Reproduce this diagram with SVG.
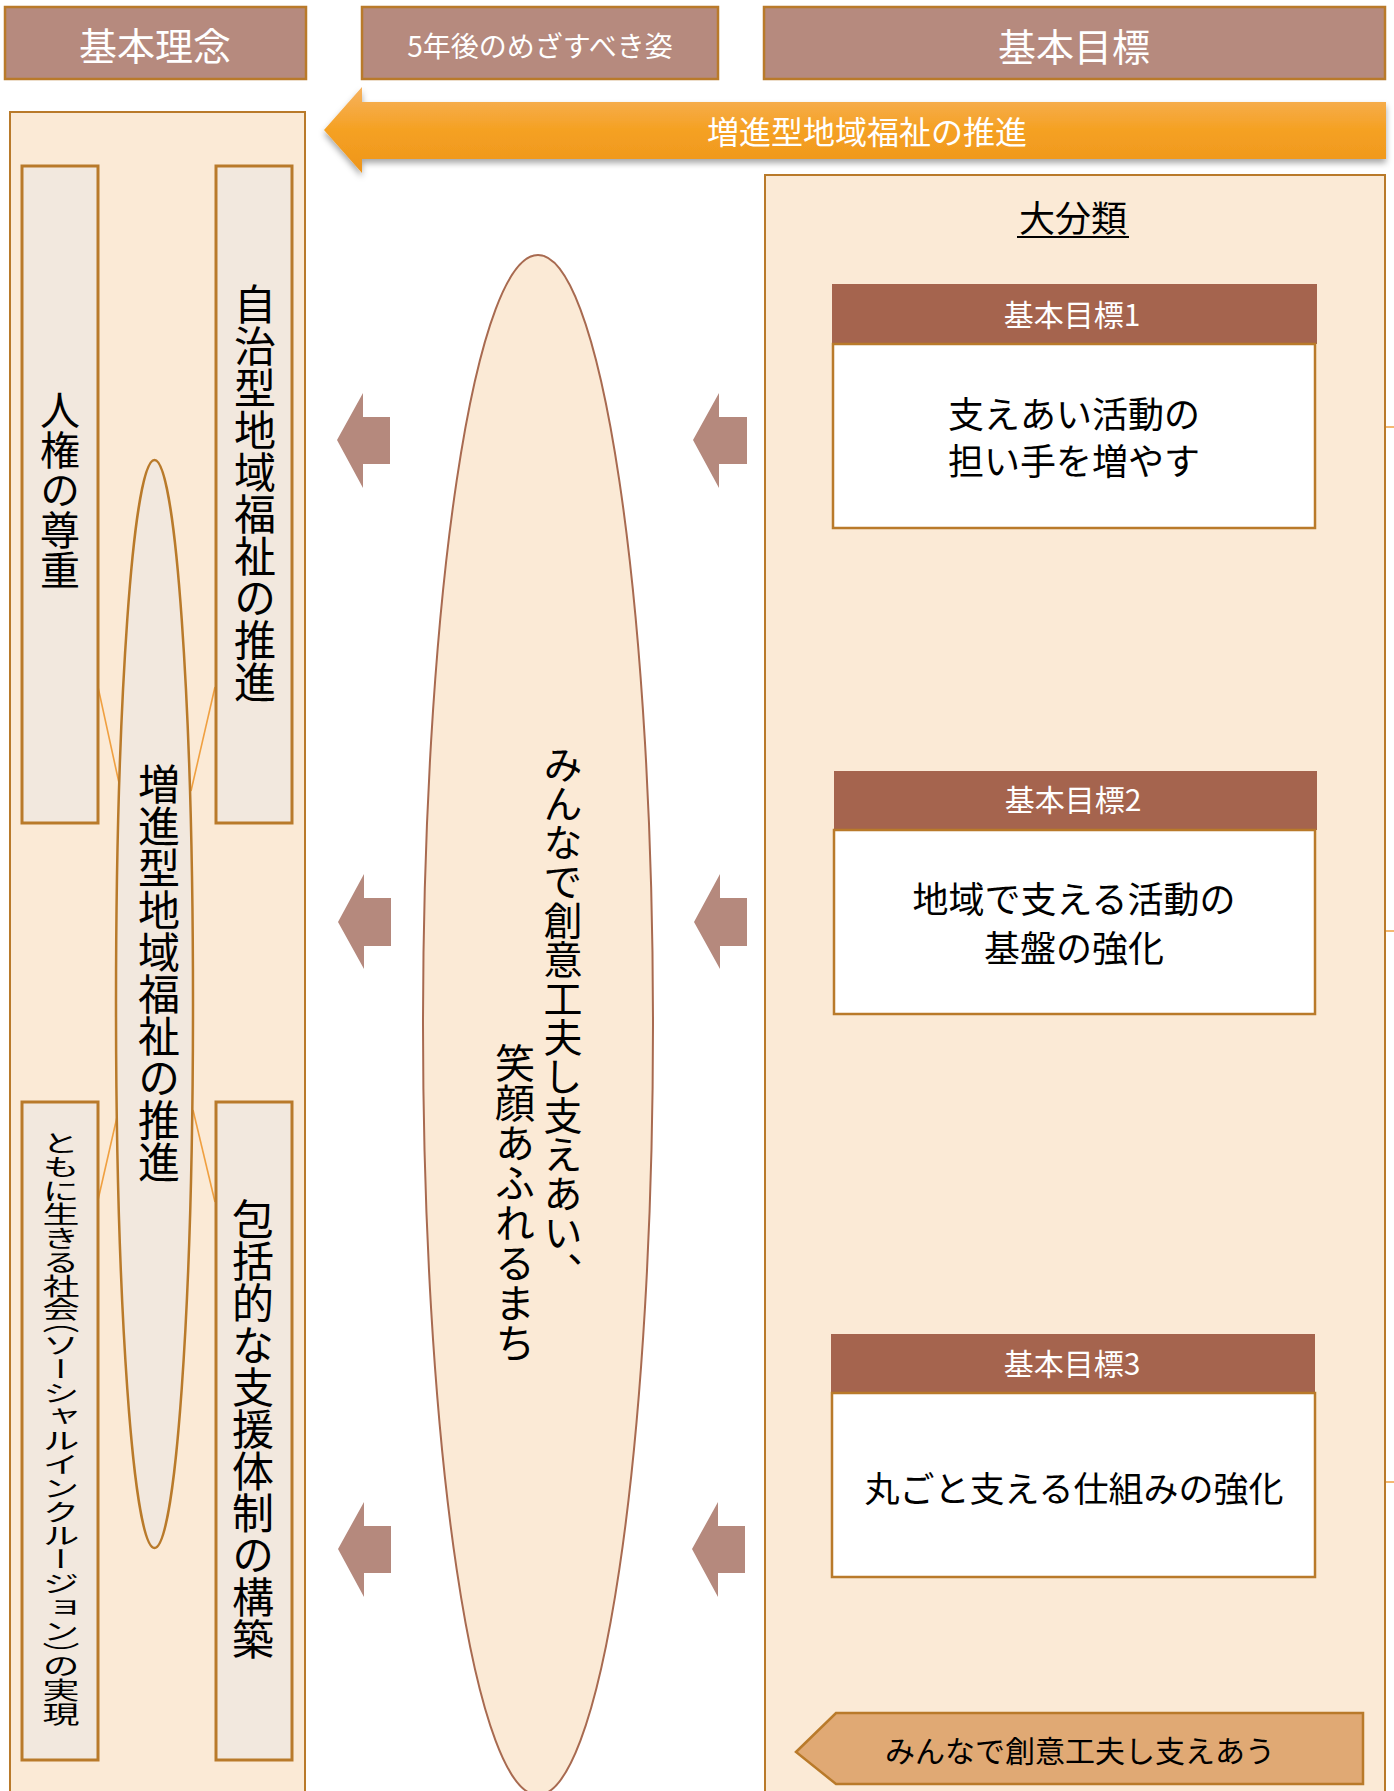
<svg xmlns="http://www.w3.org/2000/svg" width="1394" height="1791" viewBox="0 0 1394 1791">
<defs>
<style>
text{font-family:"Noto Sans CJK JP","Noto Sans",sans-serif;}
.hdr{fill:#B68A7E;stroke:#B97A2A;stroke-width:2.5;}
.panel{fill:#FBEAD6;stroke:#B97A2A;stroke-width:2;}
.inner{fill:#F2E8DE;stroke:#B97A2A;stroke-width:3;}
.gh{fill:#A5644E;}
.gb{fill:#FFFFFF;stroke:#B97A2A;stroke-width:2.5;}
.wt{fill:#FFFFFF;text-anchor:middle;dominant-baseline:central;}
.bt{fill:#000000;text-anchor:middle;dominant-baseline:central;}
.v{writing-mode:vertical-rl;fill:#000000;}
.arr{fill:#B5897D;}
.ln{stroke:#F0A040;stroke-width:1.6;fill:none;}
</style>
<linearGradient id="og" x1="0" y1="0" x2="0" y2="1">
<stop offset="0" stop-color="#F6B260"/>
<stop offset="0.5" stop-color="#F5A122"/>
<stop offset="1" stop-color="#EE951C"/>
</linearGradient>
<filter id="sh" x="-5%" y="-30%" width="110%" height="170%">
<feDropShadow dx="0" dy="4" stdDeviation="3" flood-color="#000000" flood-opacity="0.35"/>
</filter>
</defs>
<rect width="1394" height="1791" fill="#FFFFFF"/>

<g id="header-kihonrinen">
<rect class="hdr" x="5" y="7" width="301" height="72"/>
<text class="wt" x="155" y="43" font-size="38">基本理念</text>
</g>
<g id="header-5nengo">
<rect class="hdr" x="362" y="7" width="356" height="72"/>
<text class="wt" x="540" y="45" font-size="28">5年後のめざすべき姿</text>
</g>
<g id="header-kihonmokuhyo">
<rect class="hdr" x="764" y="7" width="621" height="72"/>
<text class="wt" x="1074" y="44" font-size="38">基本目標</text>
</g>

<g id="banner">
<path d="M324,130 L362,87 L362,102 L1386,102 L1386,159 L362,159 L362,173 Z" fill="url(#og)" filter="url(#sh)"/>
<text class="wt" x="867" y="130" font-size="32">増進型地域福祉の推進</text>
</g>

<g id="panel-left">
<rect class="panel" x="10" y="112" width="295" height="1700"/>
</g>

<g id="connectors">
<line class="ln" x1="98" y1="687" x2="119" y2="783"/>
<line class="ln" x1="215" y1="687" x2="191" y2="791"/>
<line class="ln" x1="98" y1="1200" x2="117" y2="1117"/>
<line class="ln" x1="215" y1="1202" x2="193" y2="1110"/>
<line class="ln" x1="1316" y1="427" x2="1394" y2="427"/>
<line class="ln" x1="1316" y1="931" x2="1394" y2="931"/>
<line class="ln" x1="1316" y1="1482" x2="1394" y2="1482"/>
<path class="arr" d="M337,440 L363,393 L363,417 L390,417 L390,464 L363,464 L363,488 Z"/>
<path class="arr" d="M693,440 L719,393 L719,417 L747,417 L747,464 L719,464 L719,488 Z"/>
<path class="arr" d="M338,922 L364,874 L364,898 L391,898 L391,946 L364,946 L364,969 Z"/>
<path class="arr" d="M694,922 L720,874 L720,898 L747,898 L747,946 L720,946 L720,969 Z"/>
<path class="arr" d="M338,1549 L364,1502 L364,1526 L391,1526 L391,1573 L364,1573 L364,1597 Z"/>
<path class="arr" d="M692,1549 L718,1502 L718,1526 L745,1526 L745,1573 L718,1573 L718,1597 Z"/>
</g>

<g id="node-jinken">
<rect class="inner" x="22" y="166" width="76" height="657"/>
<text class="v" x="60" y="390" font-size="40">人権の尊重</text>
</g>
<g id="node-jichigata">
<rect class="inner" x="216" y="166" width="76" height="657"/>
<text class="v" x="255" y="283" font-size="42">自治型地域福祉の推進</text>
</g>
<g id="node-tomoni">
<rect class="inner" x="22" y="1102" width="76" height="658"/>
<text class="v" transform="translate(61,1131) scale(1,0.643)" x="0" y="0" font-size="37" style="font-feature-settings:'vhal'">ともに生きる社会（ソーシャルインクルージョン）の実現</text>
</g>
<g id="node-houkatsu">
<rect class="inner" x="216" y="1102" width="76" height="658"/>
<text class="v" x="253" y="1198" font-size="42">包括的な支援体制の構築</text>
</g>
<g id="node-zoshingata">
<ellipse cx="154.5" cy="1004" rx="38.5" ry="544" fill="#F2E8DE" stroke="#B97A2A" stroke-width="2.5"/>
<text class="v" x="159" y="763" font-size="42">増進型地域福祉の推進</text>
</g>

<g id="node-vision">
<ellipse cx="538" cy="1025" rx="115" ry="770" fill="#FBEAD6" stroke="#A86A50" stroke-width="2"/>
<text class="v" x="563" y="745" font-size="39">みんなで創意工夫し支えあい、</text>
<text class="v" x="515" y="1043" font-size="40">笑顔あふれるまち</text>
</g>

<g id="panel-right">
<rect class="panel" x="765" y="175" width="620" height="1640"/>
<text class="bt" x="1073" y="216" font-size="36">大分類</text>
<line x1="1017" y1="237" x2="1129" y2="237" stroke="#000000" stroke-width="2"/>
</g>

<g id="goal-1">
<rect class="gh" x="832" y="284" width="485" height="60"/>
<rect class="gb" x="833" y="344" width="482" height="184"/>
<text class="wt" x="1072" y="313" font-size="30">基本目標1</text>
<text class="bt" x="1074" y="412" font-size="36">支えあい活動の</text>
<text class="bt" x="1074" y="459" font-size="36">担い手を増やす</text>
</g>
<g id="goal-2">
<rect class="gh" x="834" y="771" width="483" height="59"/>
<rect class="gb" x="834" y="830" width="481" height="184"/>
<text class="wt" x="1073" y="798" font-size="30">基本目標2</text>
<text class="bt" x="1074" y="897" font-size="36">地域で支える活動の</text>
<text class="bt" x="1074" y="946" font-size="36">基盤の強化</text>
</g>
<g id="goal-3">
<rect class="gh" x="831" y="1334" width="484" height="59"/>
<rect class="gb" x="832" y="1393" width="483" height="184"/>
<text class="wt" x="1072" y="1362" font-size="30">基本目標3</text>
<text class="bt" x="1074" y="1486" font-size="35">丸ごと支える仕組みの強化</text>
</g>

<g id="node-minnade">
<path d="M796,1752 L836,1713 L1363,1713 L1363,1784 L836,1784 Z" fill="#E0A974" stroke="#B97A2A" stroke-width="2.5"/>
<text class="bt" x="1080" y="1749" font-size="30">みんなで創意工夫し支えあう</text>
</g>
</svg>
